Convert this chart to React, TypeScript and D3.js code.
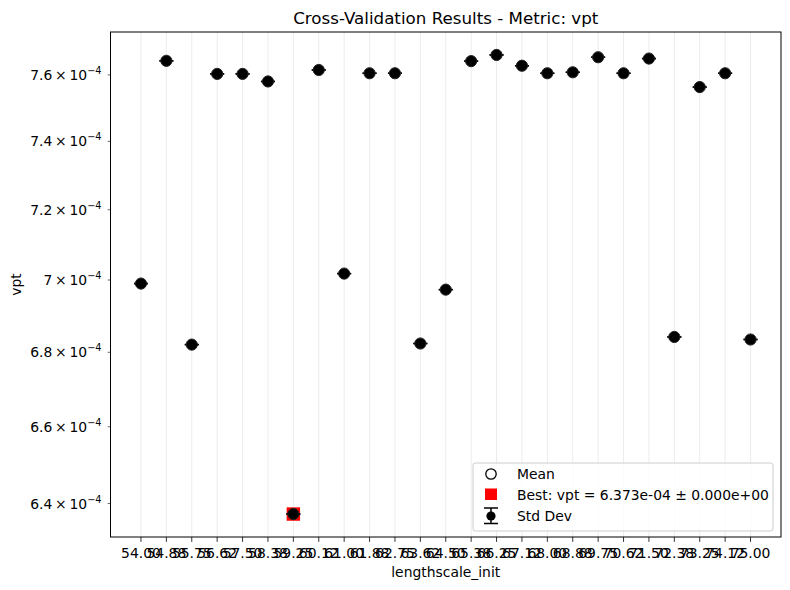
import React from "react";
import * as d3 from "d3";

// Cross-validation sweep over lengthscale_init
const lengthscales = [
  "54.00", "54.88", "55.75", "56.62", "57.50", "58.38", "59.25", "60.12", "61.00",
  "61.88", "62.75", "63.62", "64.50", "65.38", "66.25", "67.12", "68.00", "68.88",
  "69.75", "70.62", "71.50", "72.38", "73.25", "74.12", "75.00",
];
const vptMeans = [
  6.990e-4, 7.643e-4, 6.821e-4, 7.603e-4, 7.603e-4, 7.580e-4, 6.373e-4, 7.615e-4, 7.018e-4,
  7.605e-4, 7.605e-4, 6.824e-4, 6.973e-4, 7.642e-4, 7.661e-4, 7.628e-4, 7.605e-4, 7.608e-4,
  7.654e-4, 7.605e-4, 7.650e-4, 6.842e-4, 7.563e-4, 7.605e-4, 6.835e-4,
];
const vptStds = [
  0, 0, 0, 0, 0, 0, 0, 0, 0, 0, 0, 0, 0, 0, 0, 0, 0, 0, 0, 0, 0, 0, 0, 0, 0,
];
const yTickMantissas = [6.4, 6.6, 6.8, 7, 7.2, 7.4, 7.6];
const yTickExponent = -4;

const W = 790;
const H = 590;
const plot = { left: 110.5, right: 781, top: 32, bottom: 537 };
const FONT = "DejaVu Sans, Verdana, sans-serif";
const FS = 13.9;

export default function App() {
  const x = d3
    .scalePoint<string>()
    .domain(lengthscales)
    .range([plot.left, plot.right])
    .padding(1.2);

  const lo = d3.min(vptMeans.map((m, i) => m - vptStds[i])) as number;
  const hi = d3.max(vptMeans.map((m, i) => m + vptStds[i])) as number;
  const pad = (Math.log10(hi) - Math.log10(lo)) * 0.05;
  const y = d3
    .scaleLog()
    .domain([lo / Math.pow(10, pad), hi * Math.pow(10, pad)])
    .range([plot.bottom, plot.top]);

  const bestIdx = d3.minIndex(vptMeans);
  const best = vptMeans[bestIdx];
  const bestStd = vptStds[bestIdx];

  const capHalf = 7;
  const legend = { x: 473, y: 463, w: 300, h: 68 };

  return (
    <div style={{ position: "absolute", left: 0, top: 0 }}>
      <svg width={W} height={H} style={{ display: "block", background: "#fff" }} fontFamily={FONT}>
        <rect x={0} y={0} width={W} height={H} fill="#fff" />

        {/* vertical grid */}
        {lengthscales.map((c) => (
          <line key={"g" + c} x1={x(c)} x2={x(c)} y1={plot.top} y2={plot.bottom}
            stroke="#b0b0b0" strokeOpacity={0.3} strokeWidth={0.8} />
        ))}

        {/* best configuration marker */}
        <rect x={(x(lengthscales[bestIdx]) as number) - 6.7} y={y(best) - 6.7}
          width={13.4} height={13.4} fill="red" />

        {/* error bars and means */}
        {vptMeans.map((m, i) => {
          const cx = x(lengthscales[i]) as number;
          const yTop = y(m + vptStds[i]);
          const yBot = y(Math.max(m - vptStds[i], 1e-12));
          return (
            <g key={"p" + i}>
              <line x1={cx} x2={cx} y1={yTop} y2={yBot} stroke="#000" strokeWidth={1.5} />
              <line x1={cx - capHalf} x2={cx + capHalf} y1={yTop} y2={yTop} stroke="#000" strokeWidth={1.5} />
              <line x1={cx - capHalf} x2={cx + capHalf} y1={yBot} y2={yBot} stroke="#000" strokeWidth={1.5} />
              <circle cx={cx} cy={y(m)} r={5.6} fill="#000" stroke="#222" strokeWidth={1} />
            </g>
          );
        })}

        {/* axes frame */}
        <rect x={plot.left} y={plot.top} width={plot.right - plot.left} height={plot.bottom - plot.top}
          fill="none" stroke="#000" strokeWidth={1} />

        {/* x ticks */}
        {lengthscales.map((c) => (
          <g key={"xt" + c}>
            <line x1={x(c)} x2={x(c)} y1={plot.bottom} y2={plot.bottom + 4.9} stroke="#000" strokeWidth={0.8} />
            <text x={x(c)} y={plot.bottom + 20.5} textAnchor="middle" fontSize={FS} fill="#000">{c}</text>
          </g>
        ))}

        {/* y ticks */}
        {yTickMantissas.map((mt) => {
          const v = mt * Math.pow(10, yTickExponent);
          const ty = y(v);
          return (
            <g key={"yt" + mt}>
              <line x1={plot.left - 2.8} x2={plot.left} y1={ty} y2={ty} stroke="#000" strokeWidth={0.6} />
              <text x={plot.left - 9} y={ty + 5} textAnchor="end" fontSize={FS} fill="#000">
                {`${mt}\u2009\u00d7\u200910`}
                <tspan fontSize={FS * 0.7} dy={-6}>{`\u2212${Math.abs(yTickExponent)}`}</tspan>
              </text>
            </g>
          );
        })}

        {/* axis labels and title */}
        <text x={(plot.left + plot.right) / 2} y={577} textAnchor="middle" fontSize={FS} fill="#000">
          lengthscale_init
        </text>
        <text transform={`translate(21, ${(plot.top + plot.bottom) / 2}) rotate(-90)`} textAnchor="middle"
          fontSize={FS} fill="#000">vpt</text>
        <text x={(plot.left + plot.right) / 2} y={24} textAnchor="middle" fontSize={16.7} fill="#000">
          Cross-Validation Results - Metric: vpt
        </text>

        {/* legend */}
        <g>
          <rect x={legend.x} y={legend.y} width={legend.w} height={legend.h} rx={2.5}
            fill="#fff" fillOpacity={0.8} stroke="#cccccc" strokeWidth={1} />
          <circle cx={491} cy={474} r={5.2} fill="#fff" stroke="#000" strokeWidth={1.3} />
          <text x={517} y={479} fontSize={FS} fill="#000">Mean</text>
          <rect x={485} y={488.5} width={12} height={11.5} fill="red" />
          <text x={517} y={499.5} fontSize={FS} fill="#000">
            {`Best: vpt = ${best.toExponential(3).replace(/e([+-])(\d)$/, "e$10$2")} \u00b1 ${bestStd
              .toExponential(3)
              .replace(/e([+-])(\d)$/, "e$10$2")}`}
          </text>
          <line x1={491} x2={491} y1={508} y2={523.5} stroke="#000" strokeWidth={1.5} />
          <line x1={484} x2={498} y1={508} y2={508} stroke="#000" strokeWidth={1.5} />
          <line x1={484} x2={498} y1={523.5} y2={523.5} stroke="#000" strokeWidth={1.5} />
          <circle cx={491} cy={516} r={4.6} fill="#000" />
          <text x={517} y={521} fontSize={FS} fill="#000">Std Dev</text>
        </g>
      </svg>
    </div>
  );
}
